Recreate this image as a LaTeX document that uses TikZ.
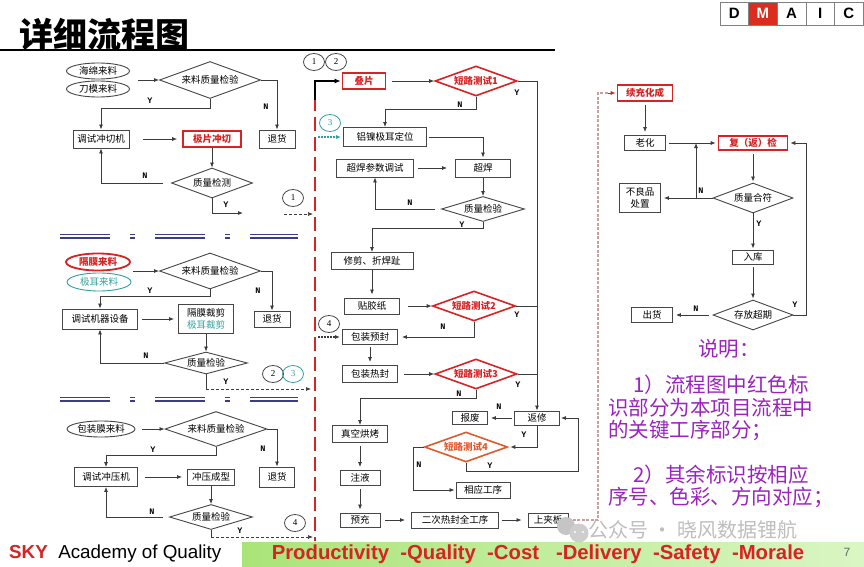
\documentclass[tikz,border=0pt]{standalone}
\usepackage{fontspec}
\setmainfont{Noto Sans CJK SC}
\newfontfamily\lat{Liberation Sans}
\newfontfamily\serifl{Liberation Serif}
\newfontfamily\monol{Liberation Mono}
\usetikzlibrary{shapes.geometric,arrows.meta,calc}
\definecolor{lc}{RGB}{60,60,60}
\definecolor{bc}{RGB}{70,70,70}
\definecolor{rc}{RGB}{215,35,35}
\definecolor{tc}{RGB}{50,160,160}
\definecolor{oc}{RGB}{225,90,45}
\definecolor{pc}{RGB}{155,35,190}
\definecolor{blu}{RGB}{60,60,140}
\definecolor{pk}{RGB}{200,160,160}
\definecolor{wm}{RGB}{190,190,190}
\tikzset{
 ln/.style={draw=lc, line width=0.8pt},
 arr/.style={ln, -{Latex[length=5pt,width=4pt]}},
 darr/.style={ln, line width=0.7pt, dash pattern=on 3pt off 2pt, -{Latex[length=5pt,width=4pt]}},
 box/.style={draw=bc, line width=0.9pt, rectangle, inner sep=0pt, text=black, font=\fontsize{9.5}{11}\selectfont},
 rbox/.style={box, draw=rc, line width=1.6pt, text=rc, font=\fontsize{9.5}{11}\selectfont\bfseries},
 dia/.style={diamond, shape aspect=3, draw=bc, line width=0.9pt, inner sep=0pt, font=\fontsize{9.5}{11}\selectfont},
 rdia/.style={dia, draw=rc, line width=1.6pt, text=rc, font=\fontsize{9.5}{11}\selectfont\bfseries},
 ell/.style={ellipse, draw=bc, line width=0.9pt, inner sep=0pt, font=\fontsize{9.5}{11}\selectfont},
 circ/.style={ellipse, draw=bc, line width=0.8pt, minimum width=21pt, minimum height=17pt, inner sep=0pt, font=\serifl\fontsize{9}{10}\selectfont},
 lab/.style={inner sep=0pt, font=\monol\bfseries\fontsize{8.5}{9}\selectfont},
 dmb/.style={draw=gray, line width=0.6pt, minimum width=28.6pt, minimum height=23pt, inner sep=0pt, font=\lat\bfseries\fontsize{15}{15}\selectfont},
 expl/.style={anchor=west, inner sep=0pt, text=pc, font=\fontsize{20.5}{22}\selectfont},
 bl/.style={draw=blu, line width=1.8pt, dash pattern=on 50pt off 20pt on 5pt off 20pt}
}
\begin{document}
\begin{tikzpicture}[x=1pt,y=-1pt]
\useasboundingbox (0,0) rectangle (864,567);
\fill[white] (0,0) rectangle (864,567);

% title
\node[inner sep=0pt, anchor=west, font=\fontsize{34}{34}\selectfont\bfseries] (title) at (19,34) {详细流程图};
\coordinate (tl0) at (0,50.5); \coordinate (tl1) at (555,50.5);
\draw[line width=2pt] (tl0) -- (tl1);

% DMAIC
\node[dmb] (dD) at (734.3,13.5) {D};
\node[dmb, fill=rc!90!orange, text=white] (dM) at (762.9,13.5) {M};
\node[dmb] (dA) at (791.5,13.5) {A};
\node[dmb] (dI) at (820.1,13.5) {I};
\node[dmb] (dC) at (848.7,13.5) {C};

% ===== block 1 =====
\node[ell, minimum width=63, minimum height=16] (hm) at (98,71) {海绵来料};
\node[ell, minimum width=63, minimum height=16] (dmo) at (98,89) {刀模来料};
\node[dia, minimum width=101, minimum height=37] (d1) at (210,80) {来料质量检验};
\coordinate (in1) at (138,80);
\draw[arr] (in1) -- (d1.west);
\node[box, minimum width=36, minimum height=18] (th1) at (277,139) {退货};
\draw[arr] (d1.east) -| (th1.north);
\node[lab] (n1) at (266,107) {N};
\node[box, minimum width=56, minimum height=18] (tq) at (101,139) {调试冲切机};
\draw[arr] (d1.south) -- ++(0,9) -| (tq.north);
\node[lab] (y1) at (150,101) {Y};
\node[rbox, minimum width=58, minimum height=16] (jp) at (212,139) {极片冲切};
\draw[arr] ([xshift=14pt]tq.east) -- ([xshift=-5pt]jp.west);
\node[dia, minimum width=81, minimum height=30] (qc1) at (212,183) {质量检测};
\draw[arr] (jp.south) -- (qc1.north);
\draw[arr] ([xshift=-8pt]qc1.west) -| (tq.south);
\node[lab] (n2) at (145,176) {N};
\coordinate (e1) at (243,213);
\draw[arr] (qc1.south) |- (e1);
\node[lab] (y2) at (226,205) {Y};
\node[circ] (c1a) at (293,198) {1};
\coordinate (c1s) at (284,214); \coordinate (c1e) at (313,214);
\draw[darr] (c1s) -- (c1e);

% separators
\coordinate (s1a) at (60,234.5); \coordinate (s1b) at (298,234.5);
\coordinate (s2a) at (60,238); \coordinate (s2b) at (298,238);
\draw[bl] (s1a) -- (s1b); \draw[bl] (s2a) -- (s2b);
\coordinate (s3a) at (60,397.5); \coordinate (s3b) at (298,397.5);
\coordinate (s4a) at (60,401); \coordinate (s4b) at (298,401);
\draw[bl] (s3a) -- (s3b); \draw[bl] (s4a) -- (s4b);

% ===== block 2 =====
\node[ell, draw=rc, line width=1.8pt, text=rc, font=\fontsize{9.5}{11}\selectfont\bfseries, minimum width=64, minimum height=17] (gml) at (98,262) {隔膜来料};
\node[ell, draw=tc, text=tc, minimum width=64, minimum height=18] (jel) at (99,282) {极耳来料};
\node[dia, minimum width=101, minimum height=36] (d2) at (210,271) {来料质量检验};
\coordinate (in2) at (133,271);
\draw[arr] (in2) -- (d2.west);
\node[box, minimum width=36, minimum height=16] (th2) at (272,319) {退货};
\draw[arr] (d2.east) -| (th2.north);
\node[lab] (n3) at (258,291) {N};
\node[box, minimum width=75, minimum height=20] (tsj) at (100,319) {调试机器设备};
\draw[arr] (d2.south) -- ++(0,7) -| (tsj.north);
\node[lab] (y3) at (150,291) {Y};
\node[box, minimum width=55, minimum height=29, align=center, font=\fontsize{9.5}{12}\selectfont] (gmcj) at (206,319) {隔膜裁剪\\\textcolor{tc}{极耳裁剪}};
\draw[arr] ([xshift=4pt]tsj.east) -- ([xshift=-4pt]gmcj.west);
\node[dia, minimum width=83, minimum height=22] (qc4) at (206,363) {质量检验};
\draw[arr] (gmcj.south) -- (qc4.north);
\draw[arr] (qc4.west) -| (tsj.south);
\node[lab] (n4) at (146,356) {N};
\coordinate (y4a) at (206,389); \coordinate (y4b) at (311,389);
\draw[ln] (qc4.south) -- (y4a);
\draw[darr] (y4a) -- (y4b);
\node[lab] (y4) at (226,382) {Y};
\node[circ] (c2a) at (273,374) {2};
\node[circ, draw=tc, text=tc] (c3a) at (293,374) {3};

% ===== block 3 =====
\node[ell, minimum width=68, minimum height=16] (bzm) at (101,429) {包装膜来料};
\node[dia, minimum width=102, minimum height=35] (d3) at (216,429) {来料质量检验};
\draw[arr] ([xshift=7pt]bzm.east) -- (d3.west);
\node[box, minimum width=35, minimum height=20] (th3) at (277,477) {退货};
\draw[arr] (d3.east) -| (th3.north);
\node[lab] (n5) at (263,449) {N};
\node[box, minimum width=63, minimum height=19] (tsc) at (106,477) {调试冲压机};
\draw[arr] (d3.south) -- ++(0,8) -| (tsc.north);
\node[lab] (y5) at (153,450) {Y};
\node[box, minimum width=47, minimum height=16] (cycx) at (211,477) {冲压成型};
\draw[arr] ([xshift=7pt]tsc.east) -- ([xshift=-5pt]cycx.west);
\node[dia, minimum width=83, minimum height=25] (qc5) at (211,517) {质量检验};
\draw[arr] (cycx.south) -- (qc5.north);
\draw[arr] ([xshift=-6pt]qc5.west) -| (tsc.south);
\node[lab] (n6) at (152,512) {N};
\coordinate (y6a) at (211,537); \coordinate (y6b) at (313,537);
\draw[ln] (qc5.south) -- (y6a);
\draw[darr] (y6a) -- (y6b);
\node[lab] (y6) at (240,531) {Y};
\node[circ] (c4a) at (295,523) {4};

% ===== red divider =====
\coordinate (rt) at (315,97); \coordinate (rb) at (315,541);
\draw[rc, line width=2.6pt, dash pattern=on 14pt off 6pt] (rt) -- (rb);
\node[circ] (c1b) at (314,62) {1};
\node[circ] (c2b) at (336,62) {2};

% ===== middle column =====
\node[rbox, minimum width=43, minimum height=16] (dp) at (364,81) {叠片};
\coordinate (bk) at (315,100);
\draw[line width=1.8pt, -{Latex[length=6pt,width=5pt]}] (bk) |- ([xshift=-1pt]dp.west);
\node[rdia, minimum width=82, minimum height=30] (st1) at (476,81) {短路测试1};
\draw[arr] ([xshift=6pt]dp.east) -- (st1.west);
\node[box, minimum width=45, minimum height=14] (fx) at (537,418) {返修};
\draw[arr] (st1.east) -| (fx.north);
\node[lab] (y7) at (517,93) {Y};
\node[box, minimum width=83, minimum height=19] (lnj) at (385,137) {铝镍极耳定位};
\draw[arr] (st1.south) -- ++(0,13) -| (lnj.north);
\node[lab] (n7) at (460,105) {N};
\node[circ, draw=tc, text=tc] (c3b) at (330,123) {3};
\coordinate (c3s) at (318,137);
\draw[tc, line width=1.1pt, dash pattern=on 1.5pt off 1.5pt, -{Latex[length=5pt,width=4pt]}] (c3s) -- ([xshift=-2pt]lnj.west);
\node[box, minimum width=55, minimum height=18] (ch) at (483,168) {超焊};
\draw[arr] ([xshift=2pt]lnj.east) -| ([yshift=1pt]ch.north);
\node[box, minimum width=77, minimum height=18] (chcs) at (375,168) {超焊参数调试};
\draw[arr] ([xshift=4pt]chcs.east) -- ([xshift=-8pt]ch.west);
\node[dia, minimum width=83, minimum height=25] (qc2) at (483,209) {质量检验};
\draw[arr] (ch.south) -- (qc2.north);
\draw[arr] ([xshift=-6pt]qc2.west) -| (chcs.south);
\node[lab] (n8) at (410,203) {N};
\node[box, minimum width=82, minimum height=17] (xj) at (372,261) {修剪、折焊趾};
\draw[arr] (qc2.south) -- ++(0,6) -| (xj.north);
\node[lab] (y8) at (462,225) {Y};
\node[box, minimum width=55, minimum height=16] (tjz) at (372,306) {贴胶纸};
\draw[arr] (xj.south) -- ([yshift=3pt]tjz.north);
\node[rdia, minimum width=83, minimum height=30] (st2) at (474,306) {短路测试2};
\draw[arr] ([xshift=8pt]tjz.east) -- (st2.west);
\draw[ln] (st2.east) -- (st2.east -| fx.north);
\node[lab] (y9) at (517,315) {Y};
\node[box, minimum width=55, minimum height=15] (bzyf) at (370,337) {包装预封};
\draw[arr] (st2.south) |- ([xshift=4pt]bzyf.east);
\node[lab] (n9) at (443,327) {N};
\node[circ] (c4b) at (329,324) {4};
\coordinate (c4s) at (318,337);
\draw[ln, line width=1.1pt, dash pattern=on 1.5pt off 1.5pt, -{Latex[length=5pt,width=4pt]}] (c4s) -- ([xshift=-2pt]bzyf.west);
\node[box, minimum width=55, minimum height=17] (bzrf) at (370,374) {包装热封};
\draw[arr] ([yshift=-2pt]bzyf.south) -- ([yshift=3pt]bzrf.north);
\node[rdia, minimum width=82, minimum height=30] (st3) at (476,374) {短路测试3};
\draw[arr] ([xshift=6pt]bzrf.east) -- (st3.west);
\draw[ln] (st3.east) -- (st3.east -| fx.north);
\node[lab] (y10) at (518,385) {Y};
\node[box, minimum width=55, minimum height=17] (zk) at (360,434) {真空烘烤};
\draw[arr] (st3.south) -- ++(0,9) -| (zk.north);
\node[lab] (n10) at (459,394) {N};
\node[box, minimum width=40, minimum height=15] (zy) at (360,478) {注液};
\draw[arr] ([yshift=-3pt]zk.south) -- ([yshift=3pt]zy.north);
\node[box, minimum width=40, minimum height=14] (yc) at (360,520) {预充};
\draw[arr] ([yshift=-3pt]zy.south) -- ([yshift=3pt]yc.north);
\node[box, minimum width=87, minimum height=16] (ecrf) at (455,520) {二次热封全工序};
\draw[arr] ([xshift=5pt]yc.east) -- ([xshift=-6pt]ecrf.west);
\node[box, minimum width=40, minimum height=14] (sjb) at (548,520) {上夹板};
\draw[arr] ([xshift=3pt]ecrf.east) -- ([xshift=-6pt]sjb.west);
\node[box, minimum width=35, minimum height=13] (bf) at (470,418) {报废};
\draw[arr] ([xshift=-2pt]fx.west) -- ([xshift=3pt]bf.east);
\node[lab] (n11) at (499,407) {N};
\node[dia, draw=oc, line width=1.6pt, text=oc, font=\fontsize{9.5}{11}\selectfont\bfseries, minimum width=83, minimum height=30] (st4) at (466,447) {短路测试4};
\draw[arr] (fx.south) |- ([xshift=2pt]st4.east);
\node[lab] (y11) at (524,435) {Y};
\coordinate (fxr) at (578,471);
\draw[arr] (st4.south) |- (fxr) |- ([xshift=1pt]fx.east);
\node[lab] (y12) at (490,466) {Y};
\node[box, minimum width=54, minimum height=16] (xygx) at (483,490) {相应工序};
\draw[arr] (st4.west) -- ++(-10,0) |- ([xshift=-1pt]xygx.west);
\node[lab] (n12) at (419,465) {N};

% pink dashed link
\node[rbox, minimum width=55, minimum height=16] (xchc) at (645,93) {续充化成};
\coordinate (pb) at (598,520); \coordinate (pt) at (598,93);
\draw[pk, line width=1.2pt, dash pattern=on 3pt off 1.5pt] (sjb.east) -- (pb) -- (pt) -- ([xshift=-8pt]xchc.west);
\draw[rc, line width=0.8pt, -{Latex[length=5pt,width=4pt]}] ([xshift=-9pt]xchc.west) -- ([xshift=-1pt]xchc.west);

% ===== right column =====
\node[box, minimum width=41, minimum height=15] (lh) at (645,143) {老化};
\draw[arr] ([yshift=-3pt]xchc.south) -- ([yshift=3pt]lh.north);
\node[rbox, minimum width=69, minimum height=14] (fj) at (753,143) {复（返）检};
\draw[arr] ([xshift=3pt]lh.east) -- ([xshift=-2pt]fj.west);
\node[dia, minimum width=80, minimum height=30] (qc3) at (753,198) {质量合符};
\draw[arr] ([yshift=-3pt]fj.south) -- ([yshift=1pt]qc3.north);
\node[box, minimum width=41, minimum height=29, align=center, font=\fontsize{9.5}{12}\selectfont] (blp) at (640,198) {不良品\\处置};
\coordinate (nj) at (696,198);
\draw[ln] (qc3.west) -- (nj);
\draw[arr] (nj) -- (nj |- lh.east);
\draw[arr] (nj) -- ([xshift=3pt]blp.east);
\node[lab] (n13) at (701,191) {N};
\node[box, minimum width=41, minimum height=14] (rk) at (753,257) {入库};
\draw[arr] (qc3.south) -- ([yshift=1pt]rk.north);
\node[lab] (y13) at (759,224) {Y};
\node[dia, minimum width=80, minimum height=30] (cf) at (753,315) {存放超期};
\draw[arr] ([yshift=-3pt]rk.south) -- ([yshift=1pt]cf.north);
\node[box, minimum width=41, minimum height=15] (chh) at (652,315) {出货};
\draw[arr] ([xshift=-4pt]cf.west) -- ([xshift=3pt]chh.east);
\node[lab] (n14) at (696,309) {N};
\coordinate (cfr) at (806,143);
\draw[arr] (cf.east) -| (cfr) -- ([xshift=2pt]fj.east);
\node[lab] (y14) at (795,305) {Y};

% explanation
\node[inner sep=0pt, text=pc, font=\fontsize{20.5}{22}\selectfont] (sm) at (729,349) {说明：};
\node[expl] (e1a) at (633,385) {1）流程图中红色标};
\node[expl] (e1b) at (608,408) {识部分为本项目流程中};
\node[expl] (e1c) at (608,430) {的关键工序部分；};
\node[expl] (e2a) at (633,475) {2）其余标识按相应};
\node[expl] (e2b) at (608,497) {序号、色彩、方向对应；};

% footer
\shade[left color={rgb,255:red,170;green,228;blue,120}, right color={rgb,255:red,218;green,246;blue,196}] (242,542) rectangle (864,567);
\node[inner sep=0pt, text=rc, font=\lat\bfseries\fontsize{20.3}{21}\selectfont] (pq) at (538,554) {Productivity\ \ -Quality\ \ -Cost\ \ \ -Delivery\ \ -Safety\ \ -Morale};
\node[inner sep=0pt, text=gray!80!black, font=\lat\fontsize{12}{12}\selectfont] (pg) at (847,552) {7};
\node[inner sep=0pt, anchor=west, font=\lat\fontsize{18.8}{20}\selectfont] (sky) at (9,554) {\textcolor{rc}{\bfseries SKY}\ \ Academy of Quality};

% watermark
\fill[wm!90!white] (566,526) circle (9);
\fill[wm!75!white] (579,533) circle (9.5);
\fill[white] (575,532) circle (1.2); \fill[white] (583,532) circle (1.2);
\node[inner sep=0pt, anchor=west, text=wm, font=\fontsize{20}{22}\selectfont] (wmk) at (588,530) {公众号 · 晓风数据锂航};
\end{tikzpicture}
\end{document}
